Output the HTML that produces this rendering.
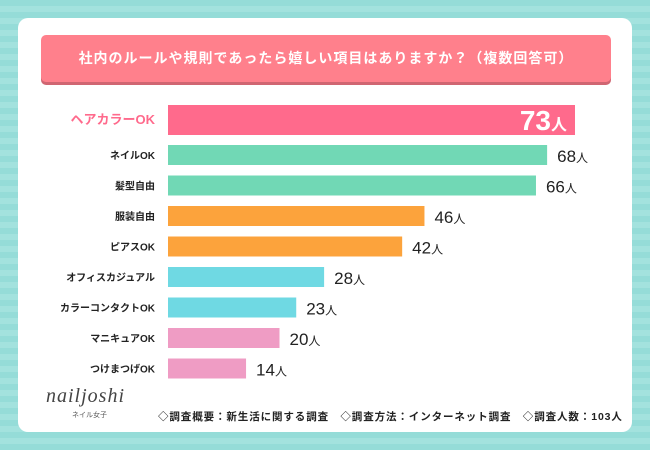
<!DOCTYPE html>
<html><head><meta charset="utf-8">
<style>
body{margin:0;width:650px;height:450px;overflow:hidden;font-family:"Liberation Sans","Noto Sans CJK JP",sans-serif;}
#bg{position:absolute;left:0;top:0;width:650px;height:450px;background:repeating-linear-gradient(180deg,#95dcd8 0 6px,#a3e2de 6px 12px);}
#card{position:absolute;left:18px;top:18px;width:614px;height:414px;background:#fff;border-radius:10px;}
#title{position:absolute;left:41px;top:35px;width:570px;height:47px;background:#ff808c;border-radius:5px;box-shadow:0 3px 0 #d06672;color:#fff;font-size:14px;font-weight:bold;text-align:center;line-height:47px;letter-spacing:1px;}
svg{position:absolute;left:0;top:0;}
</style></head><body>
<div id="bg"></div>
<div id="card"></div>
<div id="title">社内のルールや規則であったら嬉しい項目はありますか？（複数回答可）</div>
<svg id="chart" width="650" height="450"></svg>
<div style="position:absolute;left:46px;top:385px;font-family:'Liberation Serif',serif;font-style:italic;font-size:20px;color:#444;letter-spacing:1px">nailjoshi</div>
<div style="position:absolute;left:72px;top:410px;font-size:7px;color:#555">ネイル女子</div>
<div style="position:absolute;left:158px;top:409px;font-size:10.5px;font-weight:bold;color:#222;white-space:nowrap;letter-spacing:0.9px">◇調査概要：新生活に関する調査　◇調査方法：インターネット調査　◇調査人数：103人</div>
<script>
const categories=["ヘアカラーOK","ネイルOK","髪型自由","服装自由","ピアスOK","オフィスカジュアル","カラーコンタクトOK","マニキュアOK","つけまつげOK"];
const values=[73,68,66,46,42,28,23,20,14];
const colors=["#ff6a8c","#71d8b5","#71d8b5","#fca33c","#fca33c","#6fd9e3","#6fd9e3","#ef9cc4","#ef9cc4"];
const svg=document.getElementById('chart');
const NS="http://www.w3.org/2000/svg";
const x0=168,scale=407/73;
function xs(v){return x0+v*scale;}
function yc(i){return i===0?120:155+(i-1)*30.5;}
categories.forEach((c,i)=>{
  const h=i===0?30:20;
  const r=document.createElementNS(NS,'rect');
  r.setAttribute('x',x0);r.setAttribute('y',yc(i)-h/2);
  r.setAttribute('width',xs(values[i])-x0);r.setAttribute('height',h);
  r.setAttribute('fill',colors[i]);
  
  
  svg.appendChild(r);
  const t=document.createElementNS(NS,'text');
  t.setAttribute('x',155);t.setAttribute('y',yc(i)+4);
  t.setAttribute('text-anchor','end');
  t.setAttribute('font-size',i===0?13:10);
  t.setAttribute('font-weight','bold');
  t.setAttribute('fill',i===0?'#ff6a8c':'#222');
  t.textContent=c;
  
  
  svg.appendChild(t);
  const v=document.createElementNS(NS,'text');
  if(i===0){v.setAttribute('x',xs(values[i])-8);v.setAttribute('text-anchor','end');v.setAttribute('fill','#fff');v.setAttribute('y',yc(i)+10);}
  else{v.setAttribute('x',xs(values[i])+10);v.setAttribute('fill','#222');v.setAttribute('y',yc(i)+7);}
  v.setAttribute('font-size',i===0?28:17);
  v.setAttribute('font-weight',i===0?'bold':'normal');
  v.innerHTML=values[i]+'<tspan font-size="'+(i===0?16:12)+'">人</tspan>';
  
  
  svg.appendChild(v);
});
</script>
</body></html>
